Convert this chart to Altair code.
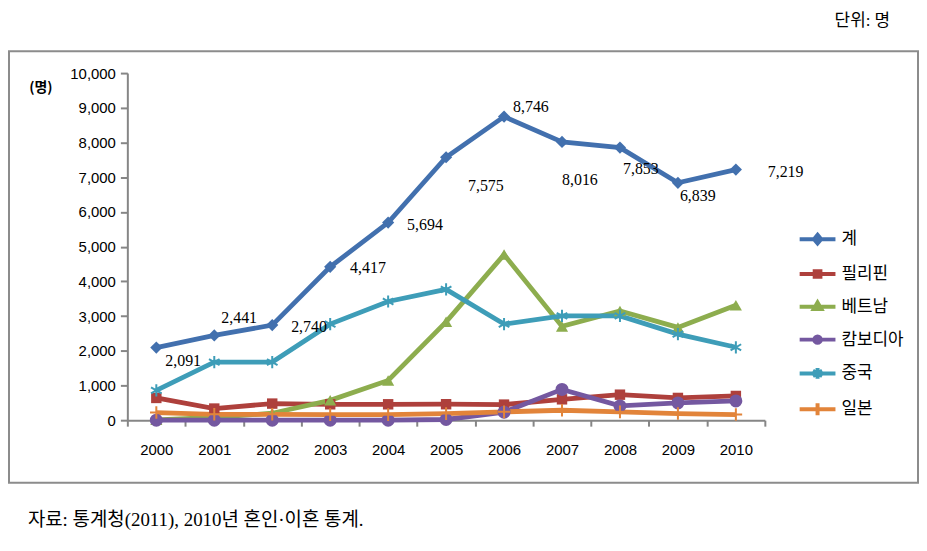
import altair as alt
import pandas as pd

YEARS = list(range(2000, 2011))
SERIES = ["계", "필리핀", "베트남", "캄보디아", "중국", "일본"]
TOTAL = [2091, 2441, 2740, 4417, 5694, 7575, 8746, 8016, 7853, 6839, 7219]
PHILIPPINES = [641, 335, 478, 458, 458, 460, 449, 601, 735, 641, 698]
VIETNAM = [10, 80, 200, 572, 1145, 2834, 4771, 2702, 3148, 2673, 3311]
CAMBODIA = [0, 0, 0, 0, 0, 20, 230, 887, 412, 498, 555]
CHINA = [859, 1674, 1674, 2767, 3420, 3769, 2768, 3005, 3005, 2481, 2100]
JAPAN = [220, 170, 170, 160, 160, 190, 240, 286, 240, 192, 163]

COLORS = ["#4270AE", "#AE403C", "#8DAD4E", "#7458A0", "#3E9DB8", "#E2843A"]
# pixel offsets of the total-series value labels (style only)
LABEL_OFFSETS = [(27, 13), (25, -18), (37, 2), (38, 1), (37, 2), (40, 29),
                 (27, -10), (18, 38), (21, 22), (20, 13), (50, 2)]

AST = "M0,-1L0,1M-0.87,-0.5L0.87,0.5M-0.87,0.5L0.87,-0.5"
PLUS = "M-1,0L1,0M0,-1L0,1"
SHAPES = ["diamond", "square", "triangle-up", "circle", AST, PLUS]
FILLED = [True, True, True, True, False, False]
SIZES = [150, 110, 150, 170, 150, 160]

LEG_PATHS = [
    "M-1,0L1,0M0,-0.24L0.2,0L0,0.24L-0.2,0Z",
    "M-1,0L1,0M-0.16,-0.16L0.16,-0.16L0.16,0.16L-0.16,0.16Z",
    "M-1,0L1,0M0,-0.24L0.21,0.12L-0.21,0.12Z",
    "M-1,0L1,0M-0.18,0A0.18,0.18 0 1,0 0.18,0A0.18,0.18 0 1,0 -0.18,0Z",
    "M-1,0L1,0M0,-0.3L0,0.3M-0.26,-0.15L0.26,0.15M-0.26,0.15L0.26,-0.15",
    "M-1,0L1,0M0,-0.34L0,0.34",
]

rows = []
for s, vals in zip(SERIES, [TOTAL, PHILIPPINES, VIETNAM, CAMBODIA, CHINA, JAPAN]):
    for yr, v in zip(YEARS, vals):
        rows.append({"year": yr, "series": s, "value": v})
df = pd.DataFrame(rows)

W, H = 641, 349
GRAY = "#868686"
SERIF_KR = "Liberation Serif, 'Noto Sans CJK KR'"

x_vals = [1999.5 + 0.5 * i for i in range(23)]
x_enc = alt.X(
    "year:Q",
    scale=alt.Scale(domain=[1999.5, 2010.5], nice=False, zero=False),
    axis=alt.Axis(
        values=x_vals,
        labelExpr="datum.value % 1 === 0 ? format(datum.value, 'd') : ''",
        tickOpacity={"condition": {"test": "datum.value % 1 === 0", "value": 0}, "value": 1},
        title=None, grid=False, domainColor=GRAY, domainWidth=2,
        tickColor=GRAY, tickWidth=2, tickSize=6,
        labelFont="Liberation Sans", labelFontSize=15, labelColor="black",
        labelPadding=17, labelOverlap=False,
    ),
)
y_enc = alt.Y(
    "value:Q",
    scale=alt.Scale(domain=[0, 10000], nice=False),
    axis=alt.Axis(
        values=list(range(0, 10001, 1000)), format=",d", title=None, grid=False,
        domainColor=GRAY, domainWidth=2, tickColor=GRAY, tickWidth=2, tickSize=7,
        labelFont="Liberation Sans", labelFontSize=15, labelColor="black", labelPadding=5,
    ),
)

legend = alt.Legend(
    title=None, orient="none", legendX=674, legendY=147,
    symbolSize=1296, symbolStrokeWidth=4, labelFontSize=17,
    labelFont="Noto Sans CJK KR", labelColor="black", rowPadding=2,
    labelOffset=4, padding=0,
)
color_scale = alt.Scale(domain=SERIES, range=COLORS)
color_enc = alt.Color("series:N", scale=color_scale, legend=legend)

base = alt.Chart(df)

lines = base.mark_line(strokeWidth=4.8).encode(x=x_enc, y=y_enc, color=color_enc, detail="series:N")

point_layers = []
for s, shp, filled, sz in zip(SERIES, SHAPES, FILLED, SIZES):
    point_layers.append(
        base.transform_filter(alt.datum.series == s)
        .mark_point(shape=shp, filled=filled, size=sz, opacity=1, strokeWidth=2)
        .encode(x=x_enc, y=y_enc, color=color_enc)
    )

legend_layer = base.transform_filter(alt.datum.year < 0).mark_point(
    filled=False, strokeWidth=4, opacity=1).encode(
    x=x_enc, y=y_enc, color=color_enc,
    shape=alt.Shape("series:N", scale=alt.Scale(domain=SERIES, range=LEG_PATHS), legend=legend),
)

labels = []
for yr, (dx, dy) in zip(YEARS, LABEL_OFFSETS):
    labels.append(
        base.transform_filter((alt.datum.series == "계") & (alt.datum.year == yr))
        .mark_text(dx=dx, dy=dy, font="Liberation Serif", fontSize=16, color="black")
        .encode(x=x_enc, y=y_enc, text=alt.Text("value:Q", format=","))
    )

unit_txt = alt.Chart(pd.DataFrame({"t": ["(명)"]})).mark_text(
    font="Noto Sans CJK KR", fontSize=14, fontWeight="bold",
    align="center", baseline="middle", color="black").encode(
    x=alt.value(-87), y=alt.value(15), text="t:N")
top_txt = alt.Chart(pd.DataFrame({"t": ["단위: 명"]})).mark_text(
    font=SERIF_KR, fontSize=17, align="right", baseline="middle", color="black").encode(
    x=alt.value(767), y=alt.value(-52), text="t:N")
foot_txt = alt.Chart(pd.DataFrame({"t": ["자료: 통계청(2011), 2010년 혼인·이혼 통계."]})).mark_text(
    font=SERIF_KR, fontSize=19, align="left", baseline="middle", color="black").encode(
    x=alt.value(-100), y=alt.value(449), text="t:N")
border = alt.Chart(pd.DataFrame({"a": [0]})).mark_rect(
    fillOpacity=0, stroke="#8c8c8c", strokeWidth=2).encode(
    x=alt.value(-119), x2=alt.value(795), y=alt.value(-22), y2=alt.value(412))

chart = alt.layer(border, lines, *point_layers, legend_layer, *labels,
                  unit_txt, top_txt, foot_txt).properties(
    width=W, height=H,
    padding={"left": 120, "top": 64, "right": 155, "bottom": 115},
    autosize=alt.AutoSizeParams(type="none"),
    background="white",
).configure_view(stroke=None)

chart.save("out.html", embed_options={"renderer": "svg", "actions": False})
